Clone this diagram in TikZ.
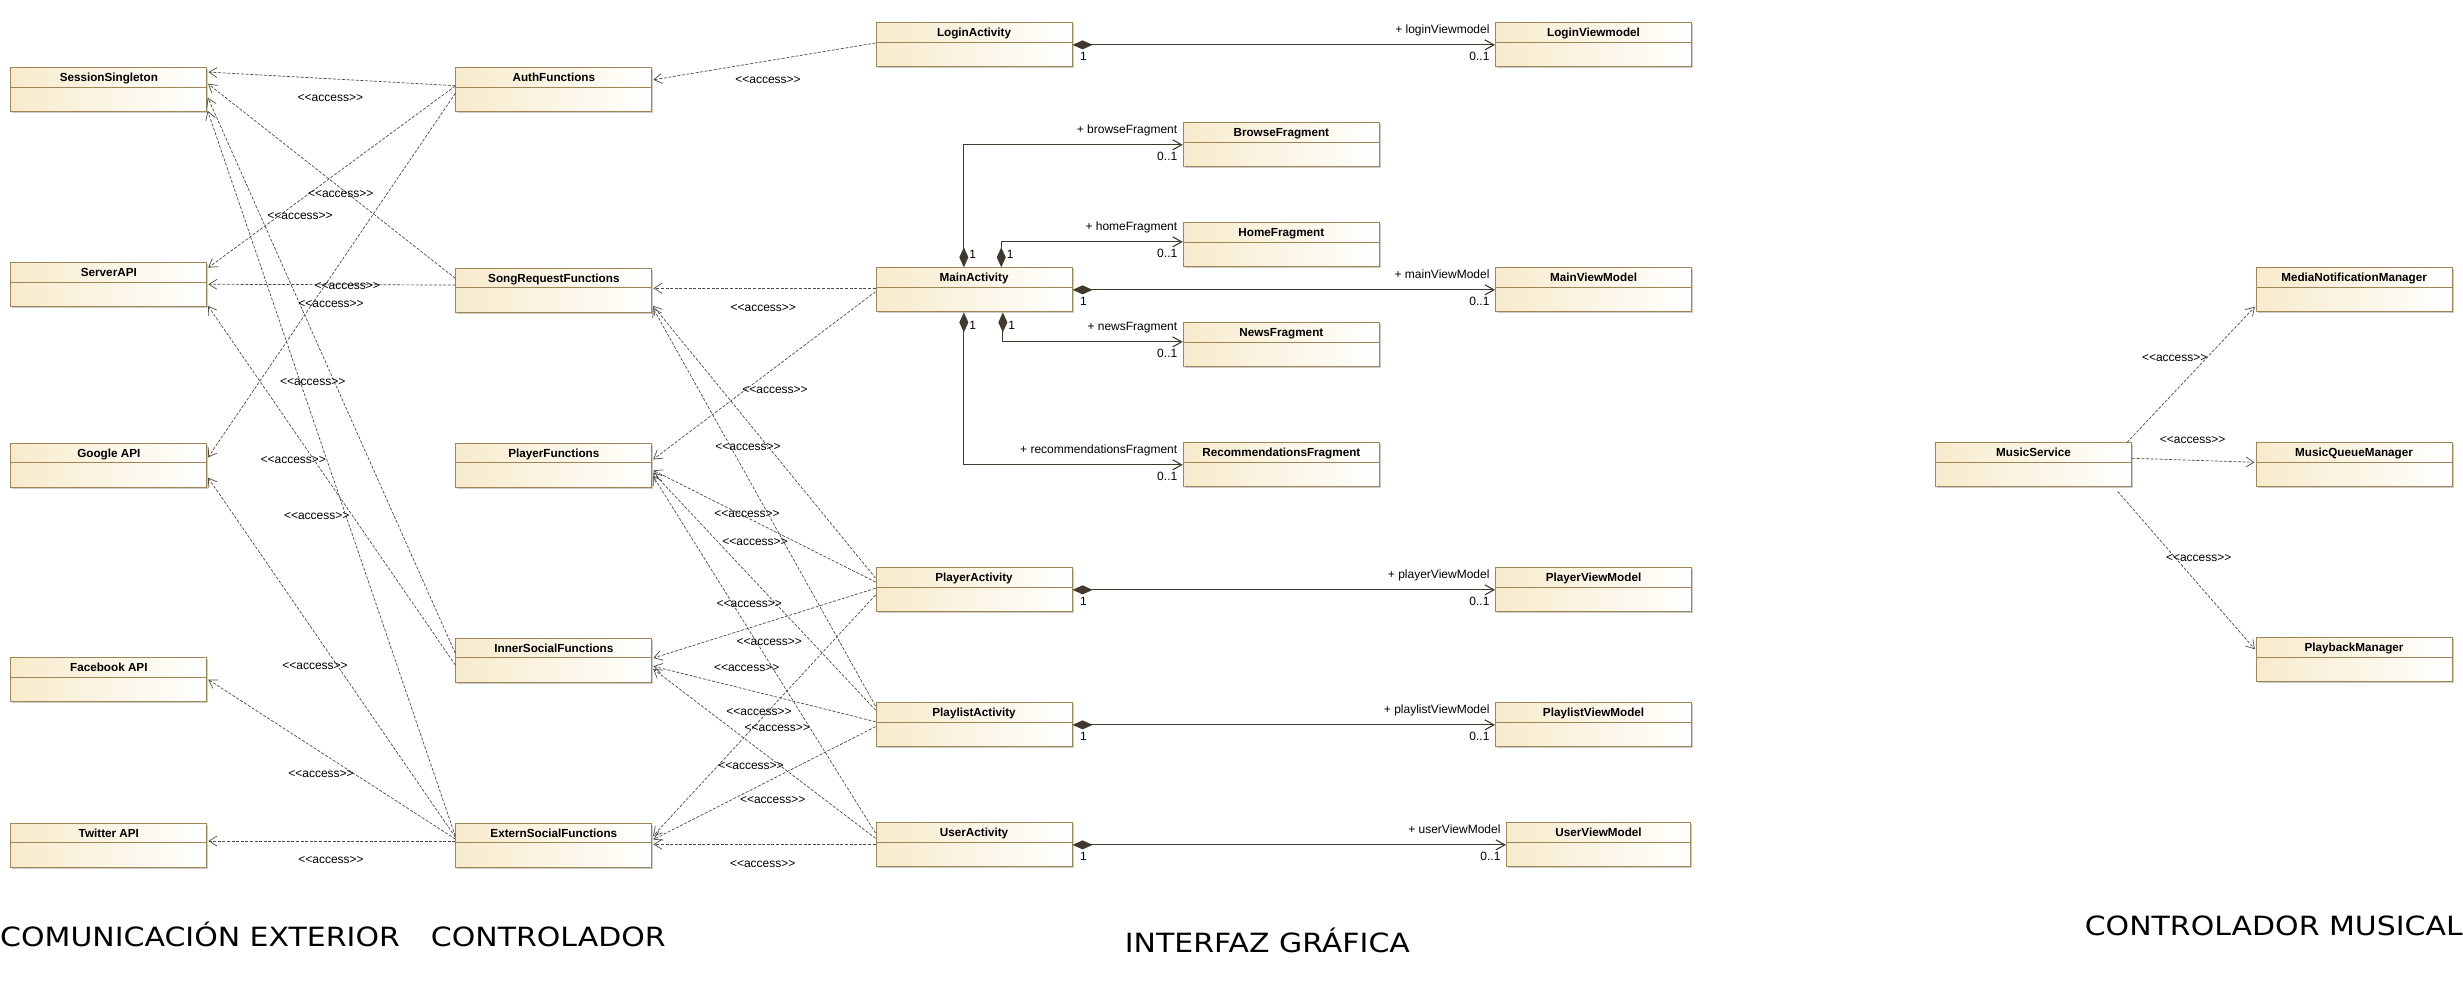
\documentclass[tikz,border=0pt]{standalone}
\usepackage{fontspec}
\setmainfont{Liberation Sans}
\newfontfamily\sectionfont[FakeStretch=1.13]{DejaVu Sans}
\usetikzlibrary{arrows.meta,positioning}

\definecolor{clsborder}{RGB}{158,134,86}
\definecolor{clsfill}{RGB}{248,235,204}
\definecolor{linkcol}{RGB}{64,57,45}
\definecolor{depcol}{RGB}{80,74,64}

\newcommand{\accesstext}{<\kern0pt<access>\kern0pt>}
\newcommand{\umlclass}[5][196]{%
  \fill[black!20] (#3+2,#4+2) rectangle ++(#1,44);
  \node[cls, minimum width=#1pt] (#2) at (#3,#4) {};
  \draw[clsborder, line width=1pt] ([yshift=-20pt]#2.north west) -- ([yshift=-20pt]#2.north east);
  \node[clsname] (#2-name) at ([yshift=-14.4pt]#2.north) {#5};
}

\tikzset{
  cls/.style={draw=clsborder, line width=1.1pt, left color=clsfill, right color=white,
    minimum height=44pt, inner sep=0pt, anchor=north west},
  clsname/.style={font=\bfseries\fontsize{11.7}{14}\selectfont, inner sep=0pt, anchor=base},
  lbl/.style={font=\fontsize{12}{14}\selectfont, inner sep=0pt},
  acc/.style={lbl},
  access/.style={draw=depcol, line width=0.7pt, dash pattern=on 3pt off 1.6pt, shorten >=1pt,
    -{Straight Barb[length=8pt,width=10pt]}},
  compo/.style={draw=linkcol, line width=1.1pt,
    {Diamond[length=20pt,width=9pt]}-{Straight Barb[length=9pt,width=10pt]}},
  rolelbl/.style={lbl, anchor=base east, xshift=-5pt, yshift=11pt},
  multlbl/.style={lbl, anchor=base east, xshift=-5pt, yshift=-16pt},
  srcmult/.style={lbl, anchor=base west, xshift=7pt, yshift=-16pt},
  topmult/.style={lbl, anchor=base west, xshift=5pt, yshift=8.7pt},
  botmult/.style={lbl, anchor=base west, xshift=5pt, yshift=-17pt},
  sectitle/.style={font=\sectionfont\fontsize{26.5}{30}\selectfont, inner sep=0pt, anchor=base west},
}

\begin{document}
\begin{tikzpicture}[x=1pt,y=-1pt]
\useasboundingbox (0,0) rectangle (2463,994);

% comunicacion exterior
\umlclass{sessionSingleton}{10.3}{67.3}{SessionSingleton}
\umlclass{serverApi}{10.3}{262.3}{ServerAPI}
\umlclass{googleApi}{10.3}{442.7}{Google API}
\umlclass{facebookApi}{10.3}{657.3}{Facebook API}
\umlclass{twitterApi}{10.3}{822.7}{Twitter API}
% controlador
\umlclass{authFunc}{455.3}{67.3}{AuthFunctions}
\umlclass{songReqFunc}{455.3}{267.7}{SongRequestFunctions}
\umlclass{playerFunc}{455.3}{442.7}{PlayerFunctions}
\umlclass{innerSocialFunc}{455.3}{637.7}{InnerSocialFunctions}
\umlclass{externSocialFunc}{455.3}{822.7}{ExternSocialFunctions}
% interfaz grafica
\umlclass{loginAct}{875.5}{22.3}{LoginActivity}
\umlclass{mainAct}{875.5}{267.3}{MainActivity}
\umlclass{playerAct}{875.5}{567.3}{PlayerActivity}
\umlclass{playlistAct}{875.5}{702.3}{PlaylistActivity}
\umlclass{userAct}{875.5}{822.3}{UserActivity}
\umlclass{browseFrag}{1182.8}{122.3}{BrowseFragment}
\umlclass{homeFrag}{1182.8}{222.3}{HomeFragment}
\umlclass{newsFrag}{1182.8}{322.3}{NewsFragment}
\umlclass{recomFrag}{1182.8}{442.3}{RecommendationsFragment}
\umlclass{loginVm}{1495}{22.3}{LoginViewmodel}
\umlclass{mainVm}{1495}{267.3}{MainViewModel}
\umlclass{playerVm}{1495}{567.3}{PlayerViewModel}
\umlclass{playlistVm}{1495}{702.3}{PlaylistViewModel}
\umlclass[184]{userVm}{1506}{822.3}{UserViewModel}
% controlador musical
\umlclass{musicService}{1935}{442.3}{MusicService}
\umlclass{mediaNotif}{2255.5}{267.3}{MediaNotificationManager}
\umlclass{musicQueue}{2255.5}{442.3}{MusicQueueManager}
\umlclass{playback}{2255.5}{637.3}{PlaybackManager}

% composiciones
\draw[compo] (loginAct.east) node[srcmult] (loginOne) {1} -- (loginVm.west)
  node[rolelbl] (loginRole) {+ loginViewmodel} node[multlbl] (loginMult) {0..1};
\draw[compo] (mainAct.east) node[srcmult] (mainOne) {1} -- (mainVm.west)
  node[rolelbl] (mainRole) {+ mainViewModel} node[multlbl] (mainMult) {0..1};
\draw[compo] (playerAct.east) node[srcmult] (playerOne) {1} -- (playerVm.west)
  node[rolelbl] (playerRole) {+ playerViewModel} node[multlbl] (playerMult) {0..1};
\draw[compo] (playlistAct.east) node[srcmult] (playlistOne) {1} -- (playlistVm.west)
  node[rolelbl] (playlistRole) {+ playlistViewModel} node[multlbl] (playlistMult) {0..1};
\draw[compo] (userAct.east) node[srcmult] (userOne) {1} -- (userVm.west)
  node[rolelbl] (userRole) {+ userViewModel} node[multlbl] (userMult) {0..1};
\draw[compo] ([xshift=-10.2pt]mainAct.north) node[topmult] (browseOne) {1} |- (browseFrag.west)
  node[rolelbl] (browseRole) {+ browseFragment} node[multlbl] (browseMult) {0..1};
\draw[compo] ([xshift=27.2pt]mainAct.north) node[topmult] (homeOne) {1} |- ([yshift=3pt]homeFrag.west)
  node[rolelbl] (homeRole) {+ homeFragment} node[multlbl] (homeMult) {0..1};
\draw[compo] ([xshift=28.8pt]mainAct.south) node[botmult] (newsOne) {1} |- ([yshift=3pt]newsFrag.west)
  node[rolelbl] (newsRole) {+ newsFragment} node[multlbl] (newsMult) {0..1};
\draw[compo] ([xshift=-10.2pt]mainAct.south) node[botmult] (recomOne) {1} |- (recomFrag.west)
  node[rolelbl] (recomRole) {+ recommendationsFragment} node[multlbl] (recomMult) {0..1};

% accesos controlador -> exterior
\draw[access] (authFunc.west |- 0,85.7) -- (sessionSingleton.east |- 0,72);
\draw[access] (authFunc.west |- 0,86) -- (serverApi.east |- 0,268.3);
\draw[access] (authFunc.west |- 0,93.3) -- (googleApi.east |- 0,458.3);
\draw[access] (songReqFunc.west |- 0,278.3) -- (sessionSingleton.east |- 0,83.3);
\draw[access] (songReqFunc.west |- 0,285) -- (serverApi.east |- 0,284.3);
\draw[access] (innerSocialFunc.west |- 0,653.3) -- (sessionSingleton.east |- 0,96.7);
\draw[access] (innerSocialFunc.west |- 0,665) -- (serverApi.east |- 0,305);
\draw[access] (externSocialFunc.west |- 0,836) -- (sessionSingleton.east |- 0,110);
\draw[access] (externSocialFunc.west |- 0,837) -- (googleApi.east |- 0,476.7);
\draw[access] (externSocialFunc.west |- 0,839) -- (facebookApi.east |- 0,679);
\draw[access] (externSocialFunc.west |- 0,841) -- (twitterApi.east |- 0,841);

% accesos interfaz -> controlador
\draw[access] (loginAct.west |- 0,43) -- (authFunc.east |- 0,80);
\draw[access] (mainAct.west |- 0,288.3) -- (songReqFunc.east |- 0,288.3);
\draw[access] (mainAct.west |- 0,291.7) -- (playerFunc.east |- 0,460);
\draw[access] (playerAct.west |- 0,578) -- (songReqFunc.east |- 0,305);
\draw[access] (playerAct.west |- 0,582) -- (playerFunc.east |- 0,470);
\draw[access] (playerAct.west |- 0,588.3) -- (innerSocialFunc.east |- 0,658.3);
\draw[access] (playerAct.west |- 0,595) -- (externSocialFunc.east |- 0,836.7);
\draw[access] (playlistAct.west |- 0,706) -- (songReqFunc.east |- 0,307);
\draw[access] (playlistAct.west |- 0,710) -- (playerFunc.east |- 0,472);
\draw[access] (playlistAct.west |- 0,721.7) -- (innerSocialFunc.east |- 0,666);
\draw[access] (playlistAct.west |- 0,726.7) -- (externSocialFunc.east |- 0,840);
\draw[access] (userAct.west |- 0,833) -- (playerFunc.east |- 0,475);
\draw[access] (userAct.west |- 0,838.3) -- (innerSocialFunc.east |- 0,668.3);
\draw[access] (userAct.west |- 0,844.3) -- (externSocialFunc.east |- 0,844.3);

% accesos servicio de musica
\draw[access] ([xshift=-5pt]musicService.north east) -- (mediaNotif.west |- 0,306);
\draw[access] (musicService.east |- 0,458.3) -- (musicQueue.west |- 0,462.3);
\draw[access] ([xshift=-14.5pt,yshift=-4pt]musicService.south east) -- (playback.west |- 0,650);

\foreach \x/\y [count=\i] in {330.4/98.3, 340.7/194.3, 300/216, 347.3/286, 331/304.3,
    312.7/382.3, 293.3/460, 316.7/516, 315/666, 321/774, 331/860,
    768/80, 763.3/308.3, 775/390, 748/446.7, 747/514, 755/542, 749.3/604, 769.3/642.3,
    746.7/668.3, 759/712.3, 777.3/728.3, 751/766, 772.7/800, 762.7/864.3,
    2174.7/358.3, 2192.6/440, 2198.7/558.3}
  \node[acc] (acc\i) at (\x,\y) {\accesstext};

\node[sectitle] (secExterior) at (0,946.7) {COMUNICACIÓN EXTERIOR};
\node[sectitle] (secControl) at (430.7,946.7) {CONTROLADOR};
\node[sectitle] (secGui) at (1124.7,952) {INTERFAZ GRÁFICA};
\node[sectitle, anchor=base east] (secMusic) at (2463,935) {CONTROLADOR MUSICAL};
\end{tikzpicture}
\end{document}
